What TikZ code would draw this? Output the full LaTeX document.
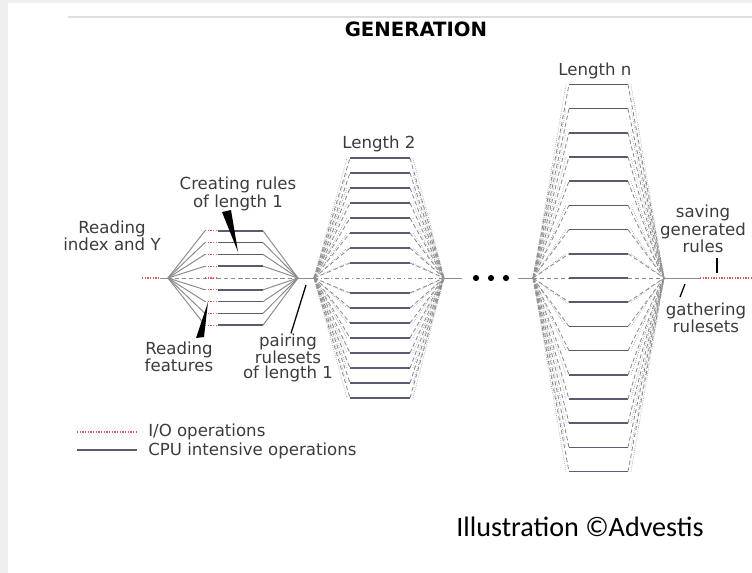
\documentclass[tikz,border=0pt]{standalone}
\usepackage{fontspec}
\setmainfont{DejaVu Sans}
\newfontfamily\creditfont{Carlito}
\usetikzlibrary{positioning}

\definecolor{cpublue}{HTML}{5A5A72}
\definecolor{iored}{HTML}{E05A5A}
\definecolor{fangray}{HTML}{8C8C8C}
\definecolor{pagegray}{HTML}{EFEFEF}
\definecolor{labelgray}{HTML}{3C3C3C}

\tikzset{
  cpu/.style={cpublue, line width=1.1pt},
  io/.style={iored, densely dotted, line width=0.9pt},
  fan/.style={fangray, line width=0.7pt},
  fandash/.style={fangray, densely dashed, line width=0.6pt},
  fandot/.style={fangray!80, densely dotted, line width=0.5pt},
  lbl/.style={font=\fontsize{11.8}{10.8}\selectfont, text=labelgray, align=center, inner sep=0pt},
  pointer/.style={black, line width=0.9pt},
}

\begin{document}
\begin{tikzpicture}[x=0.025cm, y=-0.025cm]
    \useasboundingbox (0,0) rectangle (752,573);
    % page
    \fill[pagegray] (0,0) rectangle (752,573);
    \fill[white] (8,3) rectangle (752,573);
    \draw[black!13, line width=1.5pt] (68,17) -- (752,17);
    \node[font=\bfseries\fontsize{14}{16}\selectfont] (title) at (416,29) {GENERATION};

    % hubs
    \coordinate (in) at (142,278);
    \coordinate (h1l) at (168,278);
    \coordinate (h1r) at (298,278);
    \coordinate (h2l) at (314,278);
    \coordinate (h2r) at (444,278);
    \coordinate (h3l) at (533,278);
    \coordinate (h3r) at (664,278);
    \coordinate (out) at (752,278);

    % length 1
    \draw[io] (in) -- (160,278);
    \draw[fan] (160,278) -- (h1l);
    \foreach \k in {-4,...,-1,1,2,3,4}{
        \pgfmathsetmacro\yy{278+11.8*\k}
        \draw[fan] (h1l) -- (205,\yy);
        \draw[io] (205,\yy) -- (218,\yy);
        \draw[cpu] (218,\yy) -- (263,\yy);
        \draw[fan] (263,\yy) -- (h1r);
    }
    \draw[fandash] (h1l) -- (h1r);
    \draw[io] (205,278) -- (218,278);
    \draw[fan] (h1r) -- (h2l);

    % length 2
    \foreach \k in {-8,...,-1,1,2,...,8}{
        \pgfmathsetmacro\yy{278+15*\k}
        \draw[fandash] (h2l) -- (350,\yy);
        \draw[fandot] (h2l) -- (347,\yy);
        \draw[cpu] (350,\yy) -- (410,\yy);
        \draw[fandash] (410,\yy) -- (h2r);
        \draw[fandot] (413,\yy) -- (h2r);
    }
    \draw[fangray, dash dot, line width=0.6pt] (h2l) -- (h2r);

    % dots
    \draw[fan] (h2r) -- (462,278);
    \foreach \x in {476,491,506}
        \fill (\x,278) circle (2.2pt);
    \draw[fan] (518,278) -- (h3l);

    % length n
    \foreach \k in {-8,...,-1,1,2,...,8}{
        \pgfmathsetmacro\yy{278+24.2*\k}
        \draw[fandash] (h3l) -- (569,\yy);
        \draw[fandot] (h3l) -- (566,\yy);
        \draw[cpu] (569,\yy) -- (628,\yy);
        \draw[fandash] (628,\yy) -- (h3r);
        \draw[fandot] (631,\yy) -- (h3r);
    }
    \draw[fandash] (h3l) -- (569,278);
    \draw[cpu] (569,278) -- (628,278);
    \draw[fandash] (628,278) -- (h3r);
    \draw[fan] (h3r) -- (700,278);
    \draw[io] (700,278) -- (out);

    % labels
    \node[lbl] (readidx) at (112,236) {Reading\\index and Y};
    \node[lbl] (creating) at (238,194) {Creating rules\\of length 1};
    \node[lbl] (readfeat) at (179,357) {Reading\\features};
    \node[lbl] (pairing) at (288,358) {pairing\\rulesets\\of length 1};
    \node[lbl] (len2) at (379,144) {Length 2};
    \node[lbl] (lenn) at (595,71) {Length n};
    \node[lbl] (saving) at (703,229) {saving\\generated\\rules};
    \node[lbl] (gathering) at (706,318) {gathering\\rulesets};

    % pointers
    \fill (222,212) -- (231,210) -- (238,252) -- cycle;
    \fill (208,302) -- (196,338) -- (204,337) -- cycle;
    \coordinate (pairtip) at (306,285);
    \draw[pointer] (pairing.north) ++(3,0) -- (pairtip);
    \coordinate (savetop) at (717,258);
    \coordinate (savetip) at (717,273);
    \draw[pointer] (savetop) -- (savetip);
    \coordinate (gathtop) at (685,284);
    \coordinate (gathbot) at (680,297);
    \draw[pointer] (gathbot) -- (gathtop);

    % legend
    \coordinate (io1) at (77,432);
    \coordinate (io2) at (137,432);
    \coordinate (cpu1) at (77,450);
    \coordinate (cpu2) at (137,450);
    \draw[io] (io1) -- (io2);
    \draw[cpu] (cpu1) -- (cpu2);
    \node[lbl, anchor=west] (iolbl) at (148,432) {I/O operations};
    \node[lbl, anchor=west] (cpulbl) at (148,451) {CPU intensive operations};

    \node[font=\creditfont\fontsize{20}{22}\selectfont] (credit) at (580,527) {Illustration ©Advestis};
\end{tikzpicture}
\end{document}
